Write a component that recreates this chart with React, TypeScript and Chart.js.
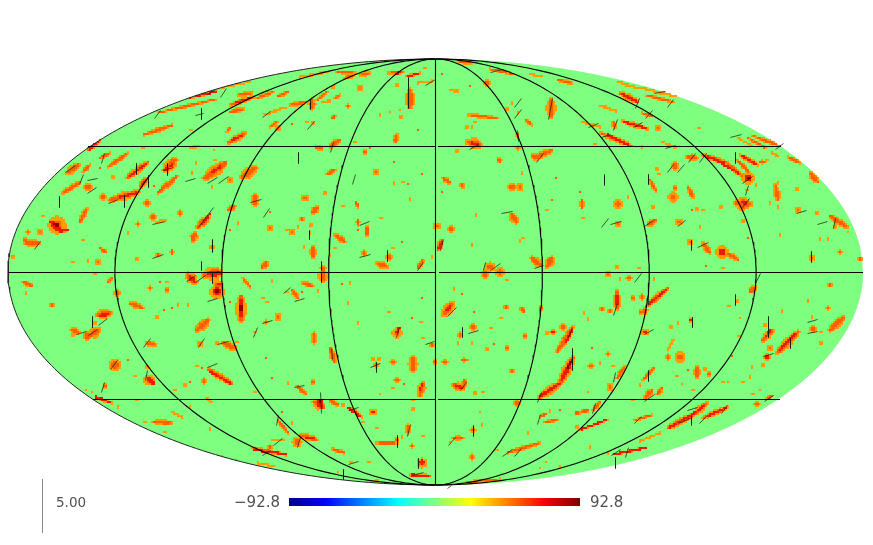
import React, { useEffect, useRef } from "react";
import { Chart, registerables } from "chart.js";
Chart.register(...registerables);

type Seg = number[];
const LOW = "\u221292.8";
const HIGH = "92.8";
const SCALE_LABEL = "5.00";
const MERIDIANS = [-135, -90, -45, 0, 45, 90, 135];
const PARALLELS: number[][] = [[8, 435, 272.5], [439, 863, 272.5], [88, 435, 146.5], [438, 781, 146.5], [93, 435, 399.5], [438, 780, 399.5]];
const JET = ["#00007f", "#0000ff", "#0080ff", "#00ffff", "#80ff80", "#ffff00", "#ff8000", "#ff0000", "#7f0000"];
const LEVEL_COLOURS = ["#ff9c00", "#ff6000", "#ee1a00", "#8f0000"];

// [x, y, width] = dot, [x1, y1, x2, y2, width] = streak, in map units
const blobsNorthWest: Seg[] = [
  [187,98,217,91,3],[220,88,250,82,1.5],[157,113,217,99,2.5],[230,105,253,97,4],[230,112,243,109,4],[257,98,273,92,3],[238,95,253,93,3],[277,97,288,92,3],[263,115,287,107,2],
  [143,135,173,125,3.5],[228,143,245,133,5],[227,132,230,128,3],[191,130,2.5],[270,127,277,122,3],[278,128,5],[88,150,100,140,4],[191,148,200,146,2],[100,158,110,153,3],[108,167,128,153,3.5],
  [127,178,148,162,5],[67,173,78,165,6],[83,172,90,165,3],[165,170,175,160,8],[214,150,2],[215,160,2],[196,163,3],[205,178,225,163,8],[242,177,255,168,8],[63,193,80,182,4],[88,187,7],[113,177,3],
  [103,197,6],[110,200,138,192,6],[140,187,148,178,5],[158,193,177,176,4],[154,186,3],[147,203,5],[43,216,2.5],[80,222,87,208,4],[57,225,14],[60,230,68,230,4],[28,232,4],[40,232,5],[25,243,40,243,5],[25,240,4],
  [83,240,3],[153,217,5],[180,213,5],[157,222,165,220,2],[138,224,4],[128,233,3],[208,217,198,227,6],[195,233,193,240,6],[172,250,172,254,4],[158,255,4],[100,248,107,253,3],[98,262,5],[73,262,3],[88,261,3],[137,259,3],
  [13,257,3],[212,247,4],[267,262,262,268,5],[235,206,228,210,5],[255,195,255,205,6],[270,212,3],[270,228,5],[287,230,3],[238,223,2],[230,230,2.5],[192,173,3],[230,180,5],[212,187,2.5],[100,168,2.5],[143,148,2.5],
];
const blobsNorthCentre: Seg[] = [
  [300,77,327,72,2],[337,72,357,73,3],[345,78,353,75,4],[360,75,370,73,3],[388,73,403,72,3],[405,77,420,73,2.5],[425,68,2.5],[442,74,3],[457,61,472,63,3],[490,69,513,74,2.5],[360,88,6],[418,83,433,81,2],[397,85,3],
  [333,87,2.5],[487,83,5],[470,86,3],[450,90,458,91,2],[290,105,307,102,3.5],[312,100,312,108,6],[317,100,327,92,3],[323,102,330,101,2],[335,98,340,95,2.5],[348,106,4],[410,90,410,107,7],[380,115,3],[390,112,2],[401,117,3],[400,110,2],
  [307,122,3],[313,123,4],[332,118,335,116,4],[292,124,2.5],[418,130,2.5],[397,135,395,142,5],[340,140,330,147,5],[323,149,315,147,3],[355,142,3],[365,152,4],[370,148,2.5],[335,170,327,174,4],[376,172,5],[295,173,2],[394,162,2.5],[422,174,3],
  [394,183,3],[403,182,2.5],[408,184,2.5],[305,198,6],[325,193,3],[317,208,313,212,6],[343,206,3],[356,202,358,207,3],[347,199,1.5],[381,218,2.5],[410,199,2.5],[358,220,358,225,3],[367,226,367,235,4],[358,230,3],[302,219,4],[311,225,3],[317,223,2],[298,227,2],
  [292,232,5],[310,233,2],[335,235,345,242,5],[335,248,3],[304,247,2.5],[313,247,313,258,5],[330,255,3],[323,267,323,270,6],[402,242,2.5],[393,248,3],[364,253,5],[389,257,5],[377,263,387,267,5],[423,260,418,268,4],[432,257,2.5],
  [437,226,6],[442,240,438,250,5],[451,229,5],[472,245,2.5],[476,215,2.5],[523,238,2],[520,241,2],[512,215,516,222,6],[442,192,2.5],[443,178,450,183,4],[461,183,463,188,3.5],[512,187,7],[520,187,6],[522,173,3],[556,178,3],[552,200,3],[547,210,2.5],[580,192,3],
  [499,158,500,162,4],[457,151,3],[468,142,480,145,8],[518,148,4],[517,133,518,138,3],[537,157,552,150,5],[532,155,538,159,5],[468,115,497,118,3],[475,122,3],[467,127,2.5],[472,127,2],[512,103,3],[507,109,3],[518,113,3],[526,120,532,125,3],[551,100,551,116,7],
  [558,80,573,83,3],[530,74,543,77,1.5],[532,258,540,265,6],[552,258,547,266,7],[490,267,8],[500,272,7],
];
const blobsNorthEast: Seg[] = [
  [618,82,633,87,2],[633,87,647,89,2],[647,89,677,97,2],[620,93,638,102,5],[645,95,673,102,2.5],[609,87,2],[599,105,616,111,2],[642,113,652,116,2.5],[685,113,1.5],[622,121,648,129,3.5],[613,122,615,127,4],[658,128,5],[583,122,600,127,2],[699,128,2],
  [600,133,632,146,4],[642,147,2],[595,144,2.5],[663,142,675,148,2],[737,137,753,147,1.5],[747,137,765,148,2.5],[753,136,780,146,3],[772,153,778,156,2],[788,157,800,163,3],[687,157,697,158,5],[703,155,727,163,4],[727,163,743,177,4],[748,178,10],
  [740,155,758,165,4],[737,160,750,173,3],[760,162,765,162,3],[767,160,2],[657,161,2],[675,166,7],[659,174,2.5],[657,169,2.5],[650,180,656,191,3],[675,188,4],[673,197,8],[688,187,693,197,4],[618,204,7],[628,197,2.5],[582,200,582,208,5],[583,218,2.5],
  [653,207,3],[697,209,2.5],[692,210,2.5],[703,210,2.5],[737,203,749,204,10],[743,200,743,207,9],[721,207,3],[747,190,3],[756,185,3],[763,193,2],[775,185,778,200,5],[778,207,3],[770,203,2],[778,183,2],[810,173,818,182,5],[797,189,3],[798,210,5],[817,213,2.5],[743,221,2.5],
  [830,216,847,227,5],[835,227,4],[848,232,2],[820,239,3],[828,239,2.5],[780,235,2.5],[656,220,648,225,5],[618,224,5],[679,222,6],[700,227,2.5],[690,242,5],[703,243,710,253,5],[722,252,10],[727,253,738,260,4],[748,238,2.5],[840,252,4],[812,258,5],[860,259,4],
  [706,266,2.5],[723,268,3],[617,267,3],[639,268,2.5],
];
const blobsSouthWest: Seg[] = [
  [23,282,32,286,4],[26,293,3],[52,305,4],[95,274,3],[107,283,113,277,3],[117,293,5],[130,303,143,308,5],[150,288,4],[160,282,2.5],[167,282,3],[167,290,4],[188,275,195,282,8],[205,275,220,272,10],[217,292,12],[218,285,8],[243,278,250,287,3],
  [272,281,2.5],[230,302,3],[241,297,241,320,8],[263,298,2.5],[267,302,2.5],[278,317,6],[266,322,4],[255,332,3],[287,292,3],[178,305,3],[172,308,2.5],[188,305,2.5],[164,310,2.5],[157,317,3],[197,330,208,320,7],[200,344,5],[217,343,3],[223,343,235,348,6],[237,342,3],
  [150,343,4],[146,343,156,345,4],[97,315,110,313,7],[95,323,4],[90,335,98,330,8],[87,336,7],[78,332,72,330,6],[73,335,4],[115,365,10],[128,360,2.5],[147,367,3],[149,380,9],[135,376,1.5],[105,386,4],[185,385,3],[190,382,2.5],[202,368,2.5],[197,366,2],[204,381,5],[208,369,232,384,5],
  [86,390,1],[92,392,1.5],[95,397,112,403,2.5],[117,399,2],[118,407,2],[137,400,2],[205,397,213,403,2],[175,390,2],[172,412,182,417,1.5],[190,407,2],[193,415,2],[145,422,2],[153,422,172,423,4],[165,432,2.5],[210,429,3],[253,425,1.5],[253,448,287,455,3],[267,447,273,447,3],
  [273,440,283,440,2],[282,412,3],[278,420,288,433,3],[258,463,273,466,1.5],[222,457,1.5],[236,460,1.5],[255,392,2],[272,378,2.5],[266,358,2.5],[288,383,2.5],
];
const blobsSouthCentre: Seg[] = [
  [323,272,323,280,8],[303,283,313,286,4],[318,291,3],[292,290,298,298,4],[302,292,2.5],[342,284,2.5],[350,283,2.5],[348,303,2.5],[389,312,2.5],[422,298,2.5],[358,323,2.5],[314,333,314,343,4],[330,348,335,362,5],[397,333,8],[412,318,2.5],[421,322,3],
  [423,338,3],[432,345,4],[435,362,4],[376,365,5],[373,359,2.5],[379,359,2.5],[393,362,5],[413,357,413,371,7],[445,362,5],[462,360,467,360,3],[443,315,453,303,7],[462,294,3],[454,289,2.5],[485,274,7],[507,280,3],[506,307,4],[521,308,524,312,3.5],[541,308,4],[501,318,3],
  [474,312,2.5],[473,327,5],[460,335,5],[458,343,2.5],[491,328,2.5],[472,343,2.5],[494,344,2.5],[487,349,4],[507,348,3.5],[525,336,4],[547,333,4],[553,332,5],[563,327,5],[573,327,557,352,5],[573,358,560,383,7],[560,383,540,397,6],[512,371,4],[503,391,2],[475,393,3],[483,392,3],
  [453,385,463,388,6],[463,388,465,380,5],[423,383,420,395,6],[397,380,5],[393,388,3],[404,384,2.5],[380,394,2],[313,382,4],[297,386,307,395,3.5],[315,402,323,407,8],[330,400,338,405,4],[343,405,3],[350,408,362,417,3],[373,412,6],[363,422,2],[413,400,3],[413,409,3],
  [433,423,2],[377,428,2.5],[408,425,408,433,5],[402,437,2],[423,436,2.5],[412,446,4],[377,443,397,443,4],[397,440,4],[332,449,345,453,3],[300,435,317,440,5],[297,442,8],[293,453,2],[350,462,353,463,2],[369,462,1.5],[338,472,1.5],[422,463,8],[410,475,430,476,3],[377,480,2],[292,423,2],
  [473,430,5],[453,438,463,438,3],[450,442,1.5],[482,425,2],[480,412,2],[517,403,5],[503,423,2],[528,433,3],[540,417,547,413,3],[550,411,2.5],[560,410,2.5],[575,413,580,413,3.5],[545,422,557,420,2.5],[577,427,3],[497,450,2],[507,453,540,443,3.5],[472,457,5],
  [467,482,500,479,2.5],[546,462,1.5],[560,467,2],[540,468,1.5],
];
const blobsSouthEast: Seg[] = [
  [608,274,6],[629,278,5],[620,279,2.5],[654,279,2.5],[617,291,617,310,5],[602,309,3.5],[610,311,3.5],[584,313,2.5],[588,319,3],[633,298,4],[642,297,5],[668,288,648,305,5],[640,313,647,310,5],[645,332,6],[691,320,4],[678,323,2.5],[671,327,2.5],[737,301,4],[729,306,3],
  [740,318,2],[739,336,2.5],[732,356,2.5],[755,287,750,292,5],[830,285,4],[808,301,3],[828,308,3.5],[782,311,2.5],[765,325,4],[773,330,762,341,5],[813,329,6],[812,317,2],[843,318,830,330,6],[821,332,2.5],[821,343,2.5],[798,332,777,353,6],[770,348,5],[767,357,6],[763,365,3],
  [752,367,2.5],[750,377,2.5],[668,357,5],[680,357,9],[673,340,668,350,2],[697,367,697,377,5],[688,370,2.5],[705,369,2.5],[709,374,4],[677,376,2],[682,384,2],[693,390,2],[723,382,2],[728,382,2],[735,379,2],[743,382,2],[753,394,2],[760,390,1.5],[767,398,772,396,3],[757,404,5],
  [592,348,2.5],[597,349,2],[608,354,4],[615,353,2],[591,366,5],[600,363,2.5],[613,366,1.5],[625,367,617,378,4],[610,387,6],[588,392,2],[655,367,643,380,3],[640,385,3],[652,390,645,398,5],[662,388,657,395,3.5],[633,400,1.5],[582,412,588,410,4],[600,402,593,410,3.5],
  [608,420,580,430,2],[652,415,635,420,2.5],[707,403,693,415,5],[693,415,668,428,5],[728,407,703,418,4],[660,433,640,441,1.5],[647,447,613,455,2],[608,453,3],[590,447,1],[615,463,1.5],
];
// core colours
const reds: Seg[] = [
  [190,97,215,92,1.5],[235,103,250,98,2],[90,147,98,142,2],[232,140,243,135,2],[130,176,146,164,2],[120,197,136,193,2.5],[142,184,147,179,2],[202,224,210,214,2.5],[51,222,62,232,5],[62,230,67,230,1.5],[213,172,220,167,2],[165,170,172,165,2],
  [396,74,400,72,2],[408,76,418,74,1],[472,143,478,145,3],[622,94,636,101,2],[624,122,646,128,1.5],[608,135,628,145,1.5],[716,160,738,173,2],[742,156,756,164,1.5],[708,157,725,163,1.5],[743,202,747,205,4],[748,178,7],[722,252,6],[90,149,92,146,2],
  [190,277,194,281,4],[208,274,220,273,5],[217,291,7],[219,284,4],[241,300,241,316,4],[100,316,108,314,3],[148,378,154,384,4],[210,372,230,383,2],[255,450,285,454,1.5],[96,397,110,402,1],[540,396,559,384,3],[561,381,572,360,4],[566,342,572,330,2],
  [320,402,6],[318,404,323,407,4],[305,437,315,439,3],[397,332,399,328,3],[447,310,451,305,2],[439,248,442,242,2],[422,462,4],[412,475,428,476,1],[348,408,360,416,1.5],[373,412,3],[553,332,2.5],[455,385,462,388,2.5],[422,384,420,390,2],
  [795,334,779,351,3],[767,357,3],[666,290,650,303,2],[645,332,2.5],[691,320,1.5],[705,405,693,414,2],[693,414,670,427,2],[725,408,708,416,1.5],[645,448,615,454,1],[606,420,582,429,1],[617,295,617,304,2],[770,331,765,337,1.5],
];
const darkReds: Seg[] = [[55,224,58,226,5],[749,178,3],[320,401,4],[217,291,3],[241,306,241,310,2.5],[218,272,3],[568,367,572,360,2]];
const sticks: Seg[] = [
  [154,118,160,110],[201,108,201,119],[195,115,203,113],[220,97,226,88],[207,94,215,89],[262,117,270,111],[101,163,104,153],[65,172,75,165],[79,184,83,174],[87,180,97,178],[87,193,96,187],[59,196,59,207],[108,203,118,199],[124,195,124,207],
  [136,163,136,174],[148,175,148,187],[163,170,173,167],[167,163,167,175],[185,181,195,178],[207,183,217,177],[218,183,228,176],[250,202,261,199],[263,217,269,208],[152,224,165,221],[198,227,213,207],[34,249,40,241],[212,239,212,252],[152,258,163,254],[201,261,201,270],
  [310,100,310,109],[307,129,314,121],[408,77,408,108],[425,85,435,79],[330,152,333,142],[298,152,298,163],[352,184,355,174],[359,225,369,221],[359,257,370,254],[309,230,309,239],[387,250,387,261],[417,270,423,262],[321,261,321,270],[469,149,478,144],
  [514,107,521,98],[514,118,521,109],[548,119,552,98],[517,130,518,141],[536,162,543,153],[501,213,512,211],[534,268,543,265],[485,262,483,270],[490,270,500,263],[440,250,443,239],[490,72,503,69],
  [654,93,665,91],[635,108,639,98],[667,107,673,99],[645,118,652,110],[613,130,617,119],[633,127,642,122],[588,127,598,123],[601,137,610,134],[665,148,675,145],[730,137,741,134],[775,149,783,143],[688,162,695,153],[699,162,706,153],[735,152,735,163],[667,172,673,164],[677,172,684,164],
  [604,174,604,185],[648,174,648,184],[742,183,752,176],[745,195,748,185],[742,207,749,198],[601,227,608,218],[610,224,621,221],[644,226,653,220],[677,226,685,220],[796,213,806,210],[817,224,827,221],[833,228,835,218],[691,240,691,250],[697,247,708,242],[811,251,811,262],
  [186,281,195,275],[195,282,205,275],[212,272,212,283],[207,301,217,298],[262,323,272,320],[253,337,257,327],[92,316,92,327],[98,325,107,318],[88,335,97,329],[76,334,86,331],[143,347,150,338],[198,347,204,338],[217,344,228,341],[207,367,217,363],[110,369,117,360],[101,392,104,382],[145,380,147,370],
  [276,425,278,415],[273,445,282,438],[262,455,270,450],[283,293,290,287],
  [294,301,304,298],[321,272,321,282],[331,348,332,359],[370,367,380,363],[376,362,376,372],[425,344,434,341],[396,337,399,327],[447,316,456,307],[462,327,462,337],[468,333,478,330],[572,327,568,337],[572,348,572,370],[537,402,541,392],[460,390,466,382],[294,387,304,385],[320,392,321,413],
  [348,410,358,407],[407,436,410,424],[397,435,397,447],[297,447,300,437],[343,469,343,479],[348,464,358,461],[418,458,418,468],[412,475,423,472],[473,425,473,436],[448,445,455,437],[537,424,540,414],[502,456,512,449],[514,456,521,448],[447,488,451,485],
  [634,282,641,273],[613,315,617,303],[648,305,648,293],[644,334,653,329],[692,317,692,327],[735,294,735,305],[768,316,768,337],[763,356,773,353],[790,338,790,348],[807,322,817,319],[807,333,817,331],[648,370,648,381],[615,372,613,382],[644,401,654,394],[764,401,773,395],
  [687,410,697,407],[691,415,691,425],[699,423,706,416],[721,413,727,405],[678,423,690,418],[634,423,641,416],[592,413,595,403],[611,455,620,449],[625,457,628,447],[615,457,615,468],[755,283,760,273],
];

const CX = 435.5, CY = 272, RX = 427.5, RY = 213;
const CELL = 2;
const gap = { x: NaN, y: NaN };
const stickLine = (segs: Seg[]) => {
  const out: { x: number; y: number }[] = [];
  for (const s of segs) out.push({ x: s[0] + 0.5, y: s[1] + 0.5 }, { x: s[2] + 0.5, y: s[3] + 0.5 }, gap);
  return out;
};
// Paint a blob into the sky's coarse pixel grid; a streak thins out towards its ends.
const paint = (cells: Map<string, number>, s: Seg, base: number, midLevel: number, grow: number) => {
  const w = s[s.length - 1] * grow;
  const x1 = s[0], y1 = s[1];
  const x2 = s.length > 3 ? s[2] : x1, y2 = s.length > 3 ? s[3] : y1;
  const dx = x2 - x1, dy = y2 - y1, len2 = dx * dx + dy * dy;
  const R = w / 2 + 2;
  const gx0 = Math.floor((Math.min(x1, x2) - R) / CELL), gx1 = Math.ceil((Math.max(x1, x2) + R) / CELL);
  const gy0 = Math.floor((Math.min(y1, y2) - R) / CELL), gy1 = Math.ceil((Math.max(y1, y2) + R) / CELL);
  for (let gx = gx0; gx <= gx1; gx++) for (let gy = gy0; gy <= gy1; gy++) {
    const px = gx * CELL, py = gy * CELL;
    const nx = (px - CX) / RX, ny = (py - CY) / RY;
    if (nx * nx + ny * ny > 1) continue;
    const t = len2 ? Math.max(0, Math.min(1, ((px - x1) * dx + (py - y1) * dy) / len2)) : 0.5;
    const d = Math.hypot(px - (x1 + t * dx), py - (y1 + t * dy));
    const profile = len2 ? 0.6 + 0.55 * Math.sin(Math.PI * t) : 1;
    const r = Math.max(1.15, (w / 2) * profile);
    if (d > r) continue;
    const level = midLevel >= 0 && w >= 3 && d < r * 0.5 ? midLevel : base;
    const key = gx + "," + gy;
    if ((cells.get(key) ?? -1) < level) cells.set(key, level);
  }
};
const arc = (lon: number, from: number, to: number) => {
  const pts = [];
  for (let i = 0; i <= 180; i++) {
    const t = ((from + ((to - from) * i) / 180) * Math.PI) / 180;
    pts.push({ x: CX + (lon / 180) * RX * Math.cos(t), y: CY - RY * Math.sin(t) });
  }
  return pts;
};
const edge = (sign: number) => {
  const pts = [];
  for (let i = 0; i <= 360; i++) {
    const t = (i / 360) * Math.PI;
    pts.push({ x: CX - RX * Math.cos(t), y: CY - sign * RY * Math.sin(t) });
  }
  return pts;
};
const line = (data: any[], color: any, width: number, extra: any = {}) => ({
  data, borderColor: color, borderWidth: width, showLine: true, pointRadius: 0, pointHoverRadius: 0, fill: false, tension: 0, spanGaps: false, ...extra,
});

export default function App() {
  const ref = useRef<HTMLCanvasElement>(null);
  useEffect(() => {
    const cells = new Map<string, number>();
    [...blobsNorthWest, ...blobsNorthCentre, ...blobsNorthEast, ...blobsSouthWest, ...blobsSouthCentre, ...blobsSouthEast].forEach((s) => paint(cells, s, 0, 1, 1.3));
    reds.forEach((s) => paint(cells, s, 2, -1, 1));
    darkReds.forEach((s) => paint(cells, s, 3, -1, 1));
    const levels: { x: number; y: number }[][] = LEVEL_COLOURS.map(() => []);
    cells.forEach((lv, key) => {
      const [gx, gy] = key.split(",").map(Number);
      levels[lv].push({ x: gx * CELL, y: gy * CELL });
    });

    const datasets: any[] = [];
    // the first dataset is painted last
    MERIDIANS.forEach((m) => datasets.push(line(arc(m, 90, -90), "#000000", 1.1)));
    PARALLELS.forEach((p) => datasets.push(line([{ x: p[0], y: p[2] }, { x: p[1], y: p[2] }], "#000000", 1)));
    datasets.push(line(arc(-180, 90, -90), "#222222", 1));
    datasets.push(line(stickLine(sticks), "rgba(10,30,10,0.72)", 1, { borderCapStyle: "butt" }));
    [...LEVEL_COLOURS.keys()].reverse().forEach((lv) => datasets.push({
      data: levels[lv], showLine: false, pointStyle: "rect", pointRadius: (CELL / 2) * Math.SQRT2 + 0.05, pointBorderWidth: 0,
      pointBackgroundColor: LEVEL_COLOURS[lv], pointHoverRadius: 0,
    }));
    // colour bar
    datasets.push(line([{ x: 289, y: 502 }, { x: 580, y: 502 }], (c: any) => {
      const g = c.chart.ctx.createLinearGradient(289, 0, 580, 0);
      JET.forEach((col, i) => g.addColorStop(i / (JET.length - 1), col));
      return g;
    }, 8, { borderCapStyle: "butt" }));
    // scale stick
    datasets.push(line([{ x: 42.5, y: 479 }, { x: 42.5, y: 533 }], "#8a8a8a", 1));
    // sky disc
    datasets.push(line(edge(1), "rgba(0,0,0,0)", 0, { fill: "+1", backgroundColor: "#7fff7f" }));
    datasets.push(line(edge(-1), "rgba(0,0,0,0)", 0));

    const labels = {
      id: "labels",
      afterDraw(c: any) {
        const x = c.ctx;
        x.save();
        x.fillStyle = "#505050";
        x.textBaseline = "alphabetic";
        x.font = '15px "DejaVu Sans"';
        x.textAlign = "right";
        x.fillText(LOW, 280, 507);
        x.textAlign = "left";
        x.fillText(HIGH, 590, 507);
        x.font = '13.5px "DejaVu Sans"';
        x.fillText(SCALE_LABEL, 56, 507);
        x.restore();
      },
    };
    const chart = new Chart(ref.current!, {
      type: "scatter",
      data: { datasets },
      options: {
        animation: false,
        responsive: false,
        events: [],
        layout: { padding: 0, autoPadding: false },
        plugins: { legend: { display: false }, tooltip: { enabled: false }, filler: { propagate: false } },
        scales: {
          x: { type: "linear", min: 0, max: 873, display: false },
          y: { type: "linear", min: 0, max: 545, reverse: true, display: false },
        },
      },
      plugins: [labels],
    } as any);
    return () => chart.destroy();
  }, []);
  return (
    <div style={{ position: "fixed", left: 0, top: 0, width: 873, height: 545, background: "#fff" }}>
      <canvas ref={ref} width={873} height={545} style={{ display: "block" }} />
    </div>
  );
}
